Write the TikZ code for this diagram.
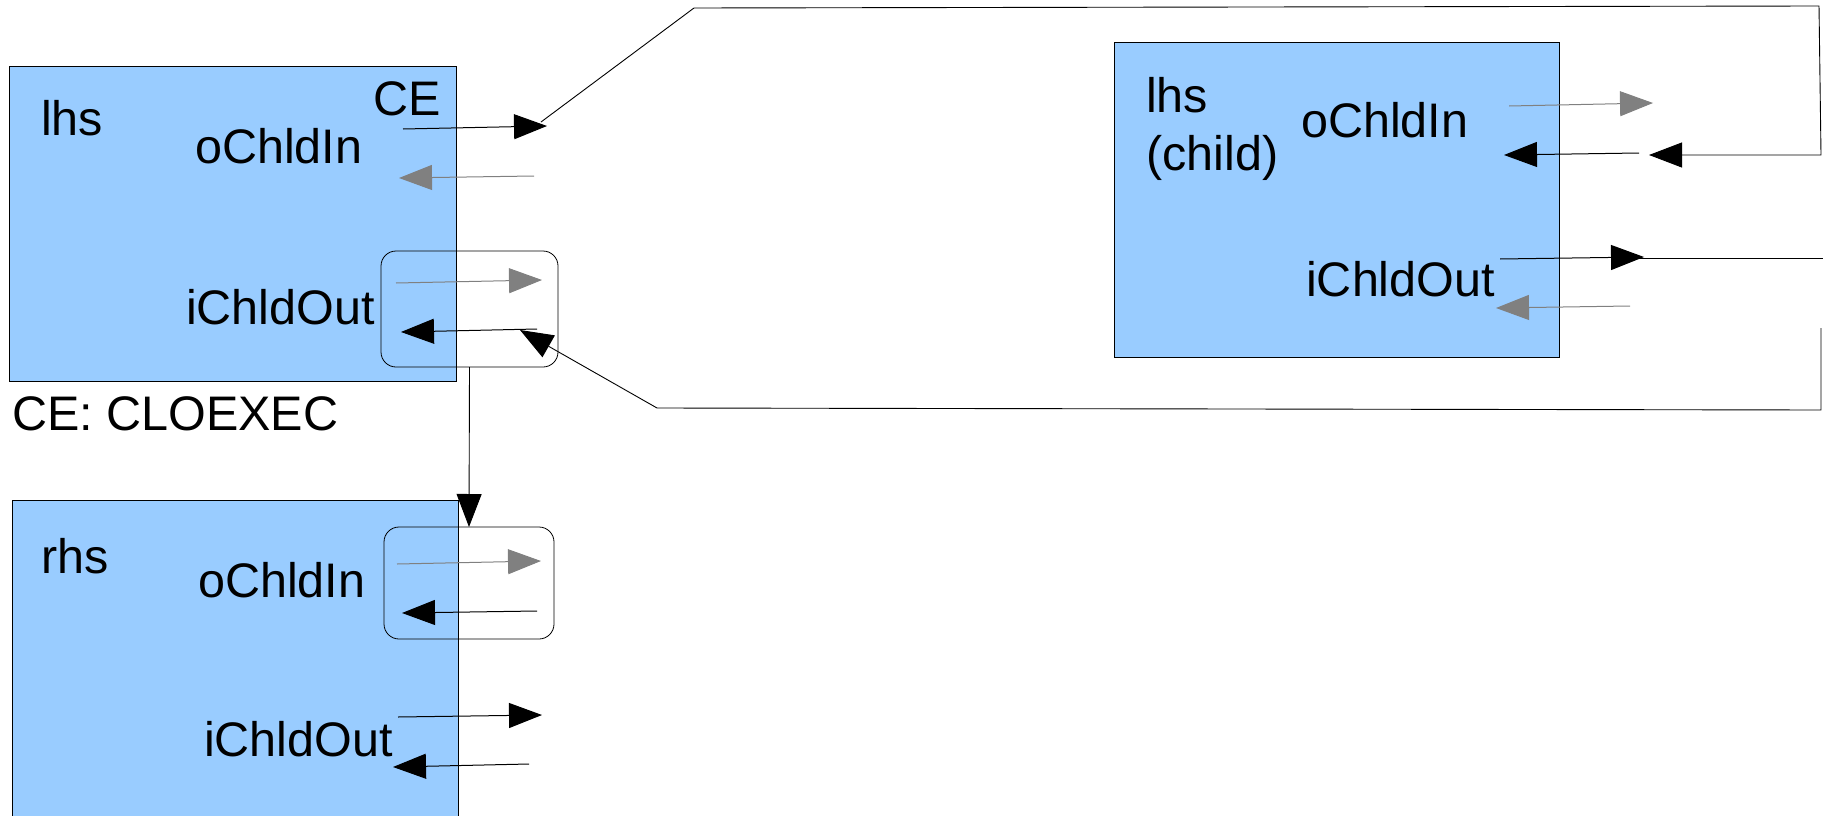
\documentclass[tikz,border=0pt]{standalone}
\usepackage{fontspec}
\setmainfont{Liberation Sans}
\usetikzlibrary{arrows.meta}
\definecolor{boxblue}{HTML}{99CCFF}
\definecolor{arrgray}{HTML}{808080}
\begin{document}
\begin{tikzpicture}[x=1pt,y=-1pt,
  box/.style={draw=black, line width=0.8pt, fill=boxblue, anchor=north west, inner sep=0pt, outer sep=0pt},
  rbox/.style={draw=black, line width=0.8pt, rounded corners=15pt, anchor=north west, inner sep=0pt, outer sep=0pt},
  lbl/.style={anchor=base west, inner sep=0pt, font=\fontsize{48.5}{56}\selectfont},
  tip/.style={-{Triangle[length=33pt,width=25pt]}},
  arr/.style={line width=1pt, tip},
  garr/.style={arr, color=arrgray},
  wire/.style={line width=0.9pt}
]
\useasboundingbox (0,0) rectangle (1823,816);
\clip (0,0) rectangle (1823,816);

% boxes
\node[box, minimum width=447pt, minimum height=315pt] (lhs) at (9,66) {};
\node[box, minimum width=446pt, minimum height=340pt] (rhs) at (12,500) {};
\node[box, minimum width=445pt, minimum height=315pt] (child) at (1114,42) {};

% labels
\node[lbl] (tLhs) at (41,135) {lhs};
\node[lbl] (tCE) at (373,115) {CE};
\node[lbl] (tLIn) at (195,163) {oChldIn};
\node[lbl] (tLOut) at (186,324) {iChldOut};
\node[lbl] (tCLO) at (12,430) {CE: CLOEXEC};
\node[lbl] (tRhs) at (41,573) {rhs};
\node[lbl] (tRIn) at (198,597) {oChldIn};
\node[lbl] (tROut) at (204,756) {iChldOut};
\node[lbl] (tC1) at (1146,112) {lhs};
\node[lbl] (tC2) at (1146,170) {(child)};
\node[lbl] (tCIn) at (1301,137) {oChldIn};
\node[lbl] (tCOut) at (1306,296) {iChldOut};

% rounded groups
\node[rbox, minimum width=177pt, minimum height=116pt] (lrb) at (381,251) {};
\node[rbox, minimum width=170pt, minimum height=112pt] (rrb) at (384,527) {};

% arrow end points
\coordinate (a1s) at (403,129); \coordinate (a1e) at (547,126);
\coordinate (a2s) at (534,176); \coordinate (a2e) at (399,178);
\coordinate (a3s) at (396,283); \coordinate (a3e) at (542,280);
\coordinate (a4s) at (537,329); \coordinate (a4e) at (401,332);
\coordinate (a5s) at (397,564); \coordinate (a5e) at (541,561);
\coordinate (a6s) at (537,611); \coordinate (a6e) at (402,613);
\coordinate (a7s) at (398,717); \coordinate (a7e) at (542,715);
\coordinate (a8s) at (529,764); \coordinate (a8e) at (393,767);
\coordinate (c1s) at (1509,106); \coordinate (c1e) at (1653,103);
\coordinate (c2s) at (1639,153); \coordinate (c2e) at (1504,155);
\coordinate (c3s) at (1500,259); \coordinate (c3e) at (1644,257);
\coordinate (c4s) at (1630,306); \coordinate (c4e) at (1496,308);

% loop points
\coordinate (t0) at (541,122);
\coordinate (t1) at (694,8);
\coordinate (t2) at (1819,6);
\coordinate (t3) at (1821,155);
\coordinate (t4) at (1649,155);
\coordinate (r0) at (1639,258);
\coordinate (r1) at (1823,258);
\coordinate (b0) at (1821,328);
\coordinate (b1) at (1821,410);
\coordinate (b2) at (657,408);
\coordinate (b3) at (520,330);

% port arrows
\draw[arr] (a1s) -- (a1e);
\draw[garr] (a2s) -- (a2e);
\draw[garr] (a3s) -- (a3e);
\draw[arr] (a4s) -- (a4e);
\draw[garr] (a5s) -- (a5e);
\draw[arr] (a6s) -- (a6e);
\draw[arr] (a7s) -- (a7e);
\draw[arr] (a8s) -- (a8e);
\draw[garr] (c1s) -- (c1e);
\draw[arr] (c2s) -- (c2e);
\draw[arr] (c3s) -- (c3e);
\draw[garr] (c4s) -- (c4e);

% loops
\draw[wire, tip] (t0) -- (t1) -- (t2) -- (t3) -- (t4);
\draw[wire] (r0) -- (r1);
\draw[wire, tip] (b0) -- (b1) -- (b2) -- (b3);
\draw[wire, tip] (lrb.south) -- (rrb.north);
\end{tikzpicture}
\end{document}
